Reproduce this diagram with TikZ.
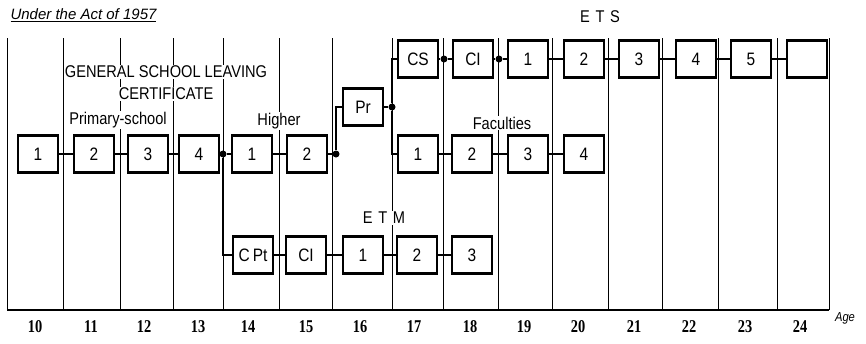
\documentclass[tikz,border=0pt]{standalone}
\usepackage{fontspec}
\setmainfont{Liberation Sans}
\newfontfamily\condsans[FakeStretch=0.86]{Liberation Sans}
\newfontfamily\condserif[FakeStretch=0.8]{Liberation Serif}
\usetikzlibrary{positioning}

\begin{document}
\begin{tikzpicture}[x=1pt,y=-1pt,
    every node/.style={anchor=center},
    colline/.style={line width=1pt, black},
    boxnode/.style={rectangle, draw, line width=2.4pt, minimum width=40pt, minimum height=37pt,
        fill=white, inner sep=0pt, font=\condsans\fontsize{18}{18}\selectfont},
    conn/.style={line width=1.4pt},
    jdot/.style={circle, fill=black, inner sep=0pt, minimum size=7pt},
    lbl/.style={fill=white, inner sep=1pt, font=\condsans\fontsize{17}{19}\selectfont},
    agelbl/.style={font=\condserif\bfseries\fontsize{18}{18}\selectfont}
]
\useasboundingbox (0,0) rectangle (866,343);

% Draw year columns
\foreach \x in {7,63,120,173,223,279,332,392,443,498,552,608,662,718,777,829} {
    \draw[colline] (\x,38) -- (\x,310);
}
\draw[line width=1.6pt] (7,310) -- (829,310);

% Draw age numbers
\foreach \x/\a in {35/10,91/11,144/12,198/13,248/14,306/15,360/16,414/17,470/18,524/19,578/20,634/21,689/22,745/23,800/24} {
    \node[agelbl, name=age\a] at (\x,327) {\a};
}
\node[font=\condsans\itshape\fontsize{13}{13}\selectfont] (agetxt) at (845,318) {Age};

% Draw titles and labels
\node[anchor=west, font=\itshape\fontsize{15}{15}\selectfont] (title) at (7,15) {\underline{Under the Act of 1957}};
\node[font=\condsans\fontsize{17}{17}\selectfont] (ets) at (600,17) {E\,\,T\,\,S};
\node[lbl] (gen) at (166,72) {GENERAL SCHOOL LEAVING};
\node[lbl] (cert) at (166,94) {CERTIFICATE};
\node[lbl] (prim) at (118,120) {Primary-school};
\node[lbl] (high) at (279,121) {Higher};
\node[lbl] (fac) at (502,123) {Faculties};
\node[lbl] (etm) at (384,218) {E\,\,T\,\,M};

% Draw boxes of the upper row
\foreach \n/\x/\t in {cs/418/CS,ci/473/CI,e1/528/1,e2/584/2,e3/639/3,e4/696/4,e5/751/5,e6/807/{}} {
    \node[boxnode, name=\n] at (\x,59) {\t};
}
% Draw boxes of the middle row
\foreach \n/\x/\t in {p1/38/1,p2/94/2,p3/148/3,p4/199/4,h1/252/1,h2/307/2,f1/418/1,f2/472/2,f3/528/3,f4/584/4} {
    \node[boxnode, name=\n] at (\x,154) {\t};
}
% Draw boxes of the lower row
\foreach \n/\x/\t in {cpt/253/C\,Pt,cim/306/CI,m1/363/1,m2/417/2,m3/472/3} {
    \node[boxnode, name=\n] at (\x,255) {\t};
}
\node[boxnode, name=pr] at (363,107) {Pr};

% Draw junction dots
\node[jdot, name=j1] at (223,154) {};
\node[jdot, name=j2] at (336,154) {};
\node[jdot, name=j3] at (392,107) {};
\node[jdot, name=j4] at (444,59) {};
\node[jdot, name=j5] at (499,59) {};

% Draw connectors
\draw[conn] (p1) -- (p2);
\draw[conn] (p2) -- (p3);
\draw[conn] (p3) -- (p4);
\draw[conn] (p4) -- (j1);
\draw[conn] (j1) -- (h1);
\draw[conn] (h1) -- (h2);
\draw[conn] (h2) -- (j2);
\draw[conn] (j2) |- (pr);
\draw[conn] (pr) -- (j3);
\draw[conn] (j3) |- (cs);
\draw[conn] (j3) |- (f1);
\draw[conn] (cs) -- (j4);
\draw[conn] (j4) -- (ci);
\draw[conn] (ci) -- (j5);
\draw[conn] (j5) -- (e1);
\draw[conn] (e1) -- (e2);
\draw[conn] (e2) -- (e3);
\draw[conn] (e3) -- (e4);
\draw[conn] (e4) -- (e5);
\draw[conn] (e5) -- (e6);
\draw[conn] (f1) -- (f2);
\draw[conn] (f2) -- (f3);
\draw[conn] (f3) -- (f4);
\draw[conn] (j1) |- (cpt);
\draw[conn] (cpt) -- (cim);
\draw[conn] (cim) -- (m1);
\draw[conn] (m1) -- (m2);
\draw[conn] (m2) -- (m3);

\end{tikzpicture}
\end{document}
